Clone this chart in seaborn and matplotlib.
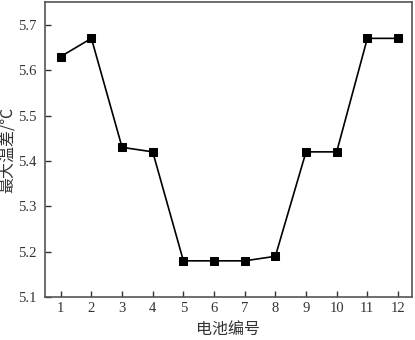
import matplotlib
matplotlib.use("Agg")
import matplotlib.pyplot as plt
import seaborn as sns
import pandas as pd

battery = [1, 2, 3, 4, 5, 6, 7, 8, 9, 10, 11, 12]
max_temp_diff = [5.63, 5.67, 5.43, 5.42, 5.18, 5.18, 5.18, 5.19, 5.42, 5.42, 5.67, 5.67]
yticks = [5.1, 5.2, 5.3, 5.4, 5.5, 5.6, 5.7]

sns.set_style("ticks")
plt.rcParams['font.family'] = ['Liberation Serif', 'Noto Sans CJK SC', 'DejaVu Sans']

df = pd.DataFrame({"x": battery, "y": max_temp_diff})

fig = plt.figure(figsize=(4.15, 3.4), dpi=100)
ax = fig.add_axes([0.108, 0.126, 0.885, 0.868])
sns.lineplot(data=df, x="x", y="y", ax=ax, color="black", marker="s",
             markersize=6, markeredgecolor="black", linewidth=1.2)

ax.set_xlim(0.48, 12.46)
ax.set_ylim(5.1, 5.75)
ax.set_xticks(battery)
ax.set_xticklabels([str(b) for b in battery])
ax.set_yticks(yticks)
ax.set_yticklabels([f"{v:.1f}" for v in yticks])
ax.tick_params(direction="in", length=4, width=1, colors="#333333", labelsize=10.5, labelcolor="#333333")
ax.tick_params(axis="y", pad=6)
for s in ax.spines.values():
    s.set_color("#555555")
    s.set_linewidth(1.2)
    s.set_visible(True)

ax.set_xlabel("电池编号", fontsize=11.5, family=['Noto Sans CJK SC'], color="#333333", labelpad=4)
ax.set_ylabel("最大温差/℃", fontsize=11.5, family=['Noto Sans CJK SC', 'DejaVu Sans'], color="#333333")
ax.yaxis.set_label_coords(-0.076, 0.5)

fig.savefig("out.png", dpi=100)
